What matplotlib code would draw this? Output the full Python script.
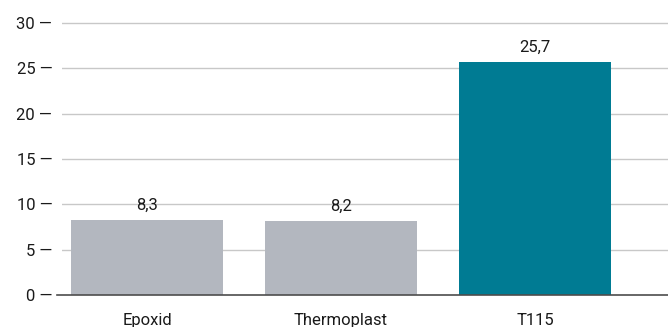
import matplotlib.pyplot as plt

plt.rcParams['font.family'] = ['Roboto', 'DejaVu Sans']

categories = ['Epoxid', 'Thermoplast', 'T115']
values = [8.3, 8.2, 25.7]
value_labels = ['8,3', '8,2', '25,7']
colors = ['#b3b7bf', '#b3b7bf', '#007b93']
yticks = [0, 5, 10, 15, 20, 25, 30]

fig = plt.figure(figsize=(6.68, 3.27), dpi=100)
ax = fig.add_axes([62 / 668, 32 / 327, 606 / 668, 275 / 327])

x = range(len(categories))
bars = ax.bar(x, values, width=0.784, color=colors, zorder=2)

# value labels above each bar, German decimal comma
for b, lab in zip(bars, value_labels):
    ax.annotate(lab, (b.get_x() + b.get_width() / 2, b.get_height()),
                xytext=(0, 5), textcoords='offset points',
                ha='center', va='bottom', fontsize=12, color='#1a1a1a')

ax.set_xlim(-0.438, 2.686)
ax.set_ylim(0, 30 + 3 / 9.07)

ax.set_yticks(yticks)
ax.set_yticklabels([f'{t} \u2014' for t in yticks], fontsize=12, color='#1a1a1a')
ax.set_xticks(list(x))
ax.set_xticklabels(categories, fontsize=12, color='#1a1a1a')
ax.tick_params(axis='y', length=0, pad=7)
ax.tick_params(axis='x', length=0, pad=13)

for t in yticks[1:]:
    ax.axhline(t, color='#c8c8c8', lw=1, zorder=1)
ax.axhline(0, xmin=-5 / 606, xmax=1, color='#4d4d4d', lw=1.2, zorder=3, clip_on=False)

for s in ax.spines.values():
    s.set_visible(False)

fig.savefig('out.png', dpi=100)
